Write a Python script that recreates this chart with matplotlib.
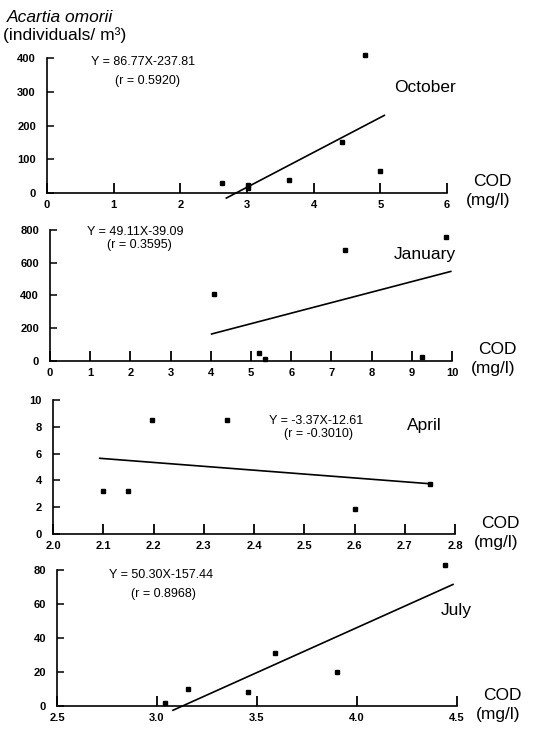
import matplotlib
matplotlib.use("Agg")
import matplotlib.pyplot as plt

plt.rcParams['font.family'] = ['Liberation Sans', 'DejaVu Sans']

# October
oct_cod = [2.62, 3.02, 3.02, 3.63, 4.43, 4.77, 5.0]
oct_abund = [31, 25, 15, 39, 150, 410, 66]
oct_fit_x = [2.69, 5.06]
oct_fit_y = [-15, 230]

# January
jan_cod = [4.07, 5.21, 5.34, 7.34, 9.25, 9.85]
jan_abund = [410, 47, 10, 680, 22, 755]
jan_fit_x = [4.02, 9.97]
jan_fit_y = [165, 547]

# April
apr_cod = [2.10, 2.15, 2.197, 2.347, 2.60, 2.75]
apr_abund = [3.2, 3.2, 8.5, 8.5, 1.9, 3.7]
apr_fit_x = [2.093, 2.75]
apr_fit_y = [5.65, 3.75]

# July
jul_cod = [3.04, 3.153, 3.455, 3.59, 3.90, 4.44]
jul_abund = [2, 10, 8, 31, 20, 83]
jul_fit_x = [3.08, 4.48]
jul_fit_y = [-2.5, 71.5]

W, H = 534, 732
fig = plt.figure(figsize=(W / 100, H / 100), dpi=100)


def panel(l, r, b, t, xlim, ylim, xticks, yticks, xlabels):
    ax = fig.add_axes([l / W, 1 - b / H, (r - l) / W, (b - t) / H])
    ax.set_xlim(*xlim)
    ax.set_ylim(*ylim)
    for s in ['top', 'right']:
        ax.spines[s].set_visible(False)
    for s in ['left', 'bottom']:
        ax.spines[s].set_linewidth(1.2)
    ax.set_xticks(xticks)
    ax.set_xticklabels(xlabels)
    ax.set_yticks(yticks)
    ax.tick_params(axis='x', direction='in', length=7, width=1.3, labelsize=8, pad=5)
    ax.tick_params(axis='y', direction='in', length=5, width=1.1, labelsize=8, pad=8)
    for lab in ax.get_xticklabels() + ax.get_yticklabels():
        lab.set_fontweight('bold')
    ax.annotate("COD", xy=(1, 0), xycoords='axes fraction', xytext=(26, 11),
                textcoords='offset pixels', va='center', ha='left', fontsize=12.5)
    ax.annotate("(mg/l)", xy=(1, 0), xycoords='axes fraction', xytext=(19, -8),
                textcoords='offset pixels', va='center', ha='left', fontsize=12.5)
    return ax


def draw(ax, x, y, fx, fy):
    ax.plot(x, y, 's', color='black', markersize=3.5, clip_on=False)
    ax.plot(fx, fy, color='black', lw=1.2, clip_on=False)


# October panel
ax1 = panel(47, 447, 193, 58, (0, 6), (0, 400), range(0, 7), [0, 100, 200, 300, 400],
            [str(v) for v in range(0, 7)])
draw(ax1, oct_cod, oct_abund, oct_fit_x, oct_fit_y)
ax1.text(0.66, 388, "Y = 86.77X-237.81", fontsize=9, va='center')
ax1.text(1.02, 333, "(r = 0.5920)", fontsize=9, va='center')
ax1.text(5.21, 314, "October", fontsize=12.5, va='center')

# January panel
ax2 = panel(50, 452, 361, 230, (0, 10), (0, 800), range(0, 11), [0, 200, 400, 600, 800],
            [str(v) for v in range(0, 11)])
draw(ax2, jan_cod, jan_abund, jan_fit_x, jan_fit_y)
ax2.text(0.92, 790, "Y = 49.11X-39.09", fontsize=9, va='center')
ax2.text(1.42, 706, "(r = 0.3595)", fontsize=9, va='center')
ax2.text(8.55, 653, "January", fontsize=12.5, va='center')

# April panel
apr_ticks = [2.0, 2.1, 2.2, 2.3, 2.4, 2.5, 2.6, 2.7, 2.8]
ax3 = panel(53, 455, 534, 400, (2.0, 2.8), (0, 10), apr_ticks, [0, 2, 4, 6, 8, 10],
            ["%.1f" % v for v in apr_ticks])
draw(ax3, apr_cod, apr_abund, apr_fit_x, apr_fit_y)
ax3.text(2.43, 8.4, "Y = -3.37X-12.61", fontsize=9, va='center')
ax3.text(2.46, 7.45, "(r = -0.3010)", fontsize=9, va='center')
ax3.text(2.705, 8.1, "April", fontsize=12.5, va='center')

# July panel
jul_ticks = [2.5, 3.0, 3.5, 4.0, 4.5]
ax4 = panel(57, 457, 706, 570, (2.5, 4.5), (0, 80), jul_ticks, [0, 20, 40, 60, 80],
            ["%.1f" % v for v in jul_ticks])
draw(ax4, jul_cod, jul_abund, jul_fit_x, jul_fit_y)
ax4.text(2.76, 77, "Y = 50.30X-157.44", fontsize=9, va='center')
ax4.text(2.87, 66, "(r = 0.8968)", fontsize=9, va='center')
ax4.text(4.42, 56, "July", fontsize=12.5, va='center')

fig.text(7 / W, 1 - 17 / H, "Acartia omorii", fontsize=12.5, style='italic', va='center')
fig.text(3 / W, 1 - 35 / H, "(individuals/ m³)", fontsize=12.5, va='center')

fig.savefig("out.png", dpi=100)
